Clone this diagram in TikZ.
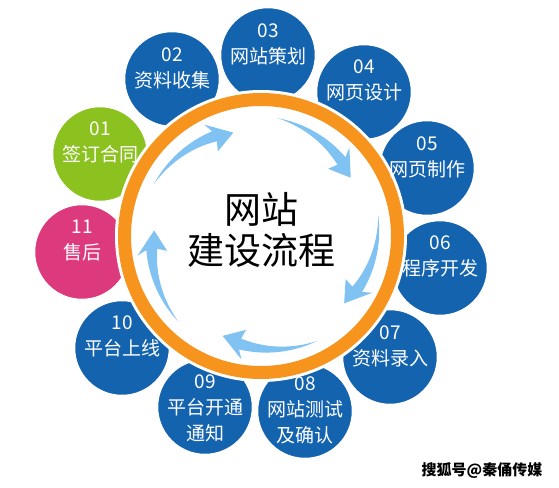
\documentclass[tikz,border=0pt]{standalone}
\usepackage{fontspec}
\setmainfont{Noto Sans CJK SC}
\usetikzlibrary{calc}
\definecolor{stepblue}{RGB}{20,99,175}
\definecolor{stepgreen}{RGB}{140,194,32}
\definecolor{steppink}{RGB}{221,58,126}
\definecolor{ringorange}{RGB}{247,148,30}
\definecolor{arrowblue}{RGB}{128,194,242}
\tikzset{
  bubble/.style={circle, minimum size=96pt, inner sep=0pt, draw=white, line width=2.5pt, fill=stepblue},
  lbl/.style={text=white, align=center, font=\fontsize{19}{26}\selectfont, inner sep=0pt},
  titletext/.style={text=black, align=center, font=\fontsize{37}{41}\selectfont, inner sep=0pt},
  mark text/.style={text=black, font=\fontsize{15}{15}\selectfont\bfseries, inner sep=0pt}
}
\begin{document}
\begin{tikzpicture}[x=1pt,y=-1pt]
\useasboundingbox (0,0) rectangle (559,487);
\coordinate (O) at (261,236);
% circles
\node[bubble, fill=stepgreen] (c1) at (100,154) {};
\node[bubble] (c2) at (172,79) {};
\node[bubble] (c3) at (268,55) {};
\node[bubble] (c4) at (364,92) {};
\node[bubble] (c5) at (427,168) {};
\node[bubble] (c6) at (440,268) {};
\node[bubble] (c7) at (390,357) {};
\node[bubble] (c8) at (305,411) {};
\node[bubble] (c9) at (205,407) {};
\node[bubble] (c10) at (122,348) {};
\node[bubble, fill=steppink] (c11) at (82,252) {};
% ring
\fill[white] (O) circle[radius=146pt];
\draw[ringorange, line width=13pt] (O) circle[radius=136.5pt];
% swoosh arrows
\begin{scope}[shift={(261,236)}]
\foreach \k in {0,...,4}{
  \pgfmathsetmacro\s{-154+72*\k}
  \fill[arrowblue]
    plot[domain=0:1,samples=25] ({\s+39*\x}:{119-9*\x+5.5*\x})
    -- ({\s+37}:{125}) -- ({\s+49}:{107}) -- ({\s+37}:{95})
    -- plot[domain=1:0,samples=25] ({\s+39*\x}:{119-9*\x-5.5*\x}) -- cycle;
}
\end{scope}
% labels
\node[lbl] (t1) at ($(c1)+(0,-12)$) {01\\签订合同};
\node[lbl] (t2) at ($(c2)+(0,-11)$) {02\\资料收集};
\node[lbl] (t3) at ($(c3)+(0,-11)$) {03\\网站策划};
\node[lbl] (t4) at ($(c4)+(0,-12)$) {04\\网页设计};
\node[lbl] (t5) at ($(c5)+(0,-11)$) {05\\网页制作};
\node[lbl] (t6) at ($(c6)+(0,-12)$) {06\\程序开发};
\node[lbl] (t7) at ($(c7)+(0,-11)$) {07\\资料录入};
\node[lbl] (t8) at ($(c8)+(0,-1)$) {08\\网站测试\\及确认};
\node[lbl] (t9) at ($(c9)+(0,1)$) {09\\平台开通\\通知};
\node[lbl] (t10) at ($(c10)+(0,-12)$) {10\\平台上线};
\node[lbl] (t11) at ($(c11)+(0,-11)$) {11\\售后};
\node[titletext] (title) at (261,230) {网站\\建设流程};
\node[mark text] (wm) at (482,470) {搜狐号@秦俑传媒};
\end{tikzpicture}
\end{document}
